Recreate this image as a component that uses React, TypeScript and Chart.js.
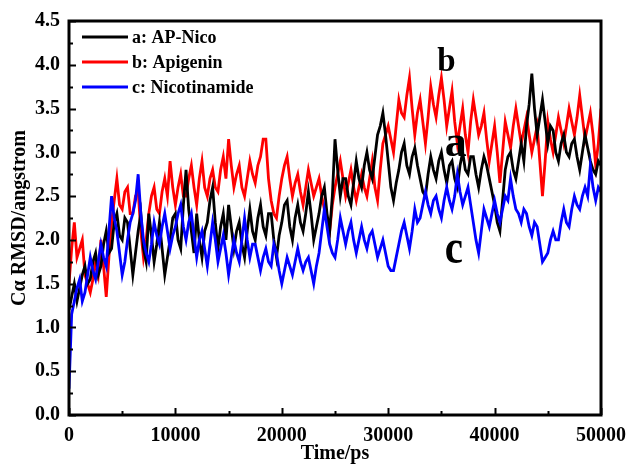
import React, { useEffect, useRef } from "react";
import { Chart, registerables } from "chart.js";

Chart.register(...registerables);

const TIME_STEP = 250;
const seriesNames = ["a: AP-Nico", "b: Apigenin", "c: Nicotinamide"];
const seriesColors = ["#000000", "#ff0000", "#0000ff"];

const apNico = [
  1.2, 1.35, 1.5, 1.3, 1.45, 1.6, 1.7, 1.5, 1.55, 1.75,
  1.85, 1.6, 1.7, 1.95, 2.1, 1.85, 1.9, 2.2, 2.3, 2.05,
  2.0, 2.25, 2.2, 1.9, 1.6, 1.85, 2.1, 2.3, 1.9, 1.75,
  2.3, 2.05, 1.75, 1.95, 2.2, 1.9, 1.6, 1.8, 2.0, 2.25,
  2.3, 2.0, 1.9, 2.4, 2.8, 2.35, 2.1, 1.85, 2.3, 2.0,
  1.8, 2.1, 2.2, 2.45, 2.6, 2.2, 1.9, 2.15, 2.3, 2.0,
  2.4, 2.15, 1.9, 2.1, 2.2, 1.95, 1.8, 2.1, 2.35, 2.1,
  2.0, 2.25, 2.4, 2.15, 2.05, 2.3, 2.3, 2.0, 1.8, 2.05,
  2.2, 2.4, 2.45, 2.15, 2.0, 2.25, 2.4, 2.2, 2.1, 2.3,
  2.55, 2.3, 2.0, 2.15, 2.3, 2.5, 2.6, 2.3, 2.1, 2.5,
  3.15, 2.8, 2.5, 2.7, 2.7, 2.5, 2.4, 2.65, 2.9, 2.7,
  2.6, 2.85, 3.0, 2.8, 2.7, 2.95, 3.2, 3.3, 3.45, 3.2,
  2.9, 2.6, 2.45, 2.65, 2.8, 3.0, 3.1, 2.85, 2.75, 2.95,
  3.05, 2.85, 2.7, 2.55, 2.5, 2.75, 2.95, 2.8, 2.7, 2.9,
  3.0, 2.8, 2.65, 2.85, 2.9, 2.7, 2.6, 2.85, 3.0, 2.8,
  2.75, 2.95, 2.95, 2.75, 2.6, 2.8, 2.95, 2.85, 2.7, 2.55,
  2.4, 2.2, 2.1, 2.45, 2.8, 2.95, 3.0, 2.8, 2.7, 2.9,
  3.1, 2.9, 3.3, 3.55, 3.9, 3.5, 3.2, 3.4, 3.6, 3.35,
  3.1, 3.3, 3.25, 3.0, 2.9, 3.1, 3.2, 3.0, 2.95, 3.1,
  3.15, 2.95, 2.8, 3.0, 3.2, 3.05, 2.9, 2.8, 2.75, 2.9,
  2.85,
];

const apigenin = [
  1.5, 1.9, 2.2, 1.8, 1.9, 2.0, 1.6, 1.5, 1.4, 1.55,
  1.75, 1.6, 2.0, 1.7, 1.35, 1.8, 2.2, 2.45, 2.7, 2.4,
  2.35, 2.55, 2.6, 2.3, 2.3, 2.5, 2.55, 2.1, 1.8, 2.0,
  2.3, 2.5, 2.6, 2.35, 2.3, 2.55, 2.7, 2.5, 2.9, 2.6,
  2.4, 2.6, 2.75, 2.5, 2.5, 2.7, 2.85, 2.6, 2.4, 2.7,
  2.9, 2.6, 2.5, 2.7, 2.8, 2.6, 2.55, 2.8, 2.95, 2.7,
  3.15, 2.85, 2.6, 2.75, 2.85, 2.6, 2.5, 2.7, 2.9, 2.75,
  2.65, 2.85, 2.95, 3.15, 3.15, 2.7, 2.45, 2.3, 2.25, 2.5,
  2.7, 2.85, 2.95, 2.7, 2.5, 2.65, 2.75, 2.55, 2.4, 2.6,
  2.8, 2.65, 2.5, 2.6, 2.7, 2.5, 2.35, 2.2, 2.1, 2.4,
  2.6, 2.75, 2.9, 2.7, 2.5, 2.65, 2.8, 2.6, 2.45, 2.6,
  2.75, 2.6, 2.5, 2.7, 2.9, 2.6, 2.45, 2.8, 3.1, 3.2,
  3.3, 3.15, 3.0, 3.3, 3.6, 3.45, 3.4, 3.65, 3.85, 3.5,
  3.2, 3.45, 3.6, 3.35, 3.1, 3.4, 3.75, 3.55, 3.4, 3.65,
  3.85, 3.6, 3.3, 3.5, 3.7, 3.35, 3.1, 3.3, 3.5, 3.2,
  3.0, 3.35, 3.6, 3.4, 3.2, 3.3, 3.45, 3.15, 2.9, 3.1,
  3.3, 3.0, 2.65, 3.0, 3.35, 3.2, 3.05, 3.3, 3.5, 3.3,
  3.1, 3.25, 3.4, 3.2, 3.0, 3.15, 3.3, 2.9, 2.5, 2.9,
  3.35, 3.15, 3.0, 3.2, 3.4, 3.25, 3.1, 3.3, 3.5, 3.35,
  3.2, 3.4, 3.65, 3.4, 3.15, 3.3, 3.45, 3.2, 2.85, 3.1,
  3.5,
];

const nicotinamide = [
  0.3, 1.15, 1.3, 1.45, 1.55, 1.3, 1.4, 1.6, 1.8, 1.65,
  1.55, 1.75, 1.95, 1.8, 1.7, 2.1, 2.5, 2.25, 2.1, 1.85,
  1.6, 1.75, 2.0, 2.2, 2.3, 2.45, 2.75, 2.3, 2.0, 1.85,
  1.75, 1.95, 2.2, 2.05, 1.95, 2.15, 2.3, 2.1, 1.9, 2.05,
  2.15, 2.3, 2.4, 2.15, 2.0, 2.2, 2.3, 2.05, 1.8, 2.0,
  2.1, 1.9, 1.7, 1.95, 2.2, 2.0, 1.75, 1.9, 2.05, 1.85,
  1.6, 1.8, 2.0, 1.85, 1.75, 2.0, 2.25, 2.0, 1.8, 1.95,
  1.95, 1.8, 1.65, 1.8, 1.9, 1.75, 1.7, 1.95, 1.85, 1.65,
  1.5, 1.65, 1.8, 1.7, 1.6, 1.75, 1.9, 1.75, 1.65, 1.75,
  1.8, 1.65, 1.5, 1.7, 1.85, 2.1, 2.35, 2.15, 1.95, 1.85,
  1.8, 2.0, 2.25, 2.1, 1.95, 2.1, 2.2, 2.0, 1.85, 2.0,
  2.15, 2.0, 1.9, 2.05, 2.1, 1.95, 1.8, 1.9, 2.0, 1.85,
  1.7, 1.65, 1.65, 1.8, 1.95, 2.1, 2.2, 2.05, 1.9, 2.1,
  2.35, 2.2, 2.25, 2.4, 2.55, 2.4, 2.3, 2.45, 2.5, 2.35,
  2.25, 2.45, 2.6, 2.45, 2.35, 2.5, 2.75, 2.55, 2.4, 2.5,
  2.6, 2.4, 2.2, 2.0, 1.85, 2.1, 2.35, 2.25, 2.15, 2.3,
  2.45, 2.3, 2.2, 2.35, 2.5, 2.45, 2.7, 2.5, 2.35, 2.3,
  2.2, 2.35, 2.3, 2.15, 2.05, 2.2, 2.15, 1.95, 1.75, 1.8,
  1.85, 2.0, 2.1, 2.0, 2.0, 2.2, 2.35, 2.2, 2.15, 2.35,
  2.5, 2.4, 2.35, 2.5, 2.6, 2.5, 2.85, 2.6, 2.45, 2.6,
  2.55,
];

const xTicks = [0, 10000, 20000, 30000, 40000, 50000];
const yTicks = [0, 0.5, 1.0, 1.5, 2.0, 2.5, 3.0, 3.5, 4.0, 4.5];
const annotations = [
  { text: "b", x: 35480, y: 3.93, size: 33, sy: 1.0 },
  { text: "a", x: 36360, y: 2.96, size: 44, sy: 1.0 },
  { text: "c", x: 36180, y: 1.74, size: 41, sy: 1.2 },
];

const FONT = "'Liberation Serif', 'Times New Roman', serif";

const toPoints = (arr: number[]) => arr.map((v, i) => ({ x: i * TIME_STEP, y: v }));

const framePlugin = {
  id: "frame",
  afterDatasetsDraw(chart: any) {
    const { ctx, chartArea: ca, scales } = chart;
    const xs = scales.x;
    const ys = scales.y;
    ctx.save();
    ctx.strokeStyle = "#000";
    ctx.lineWidth = 2;
    ctx.beginPath();
    for (let v = 0; v <= 50000; v += 5000) {
      const px = Math.round(xs.getPixelForValue(v)) + 0.5;
      const len = v % 10000 === 0 ? 7 : 4;
      ctx.moveTo(px, ca.bottom);
      ctx.lineTo(px, ca.bottom - len);
    }
    for (let k = 0; k <= 18; k++) {
      const v = k * 0.25;
      const py = Math.round(ys.getPixelForValue(v)) + 0.5;
      const len = k % 2 === 0 ? 7 : 4;
      ctx.moveTo(ca.left, py);
      ctx.lineTo(ca.left + len, py);
    }
    ctx.stroke();
    ctx.lineWidth = 3;
    ctx.strokeRect(ca.left, ca.top, ca.right - ca.left, ca.bottom - ca.top);

    const rows = [37, 62, 87];
    ctx.textBaseline = "middle";
    ctx.textAlign = "left";
    ctx.font = `bold 18px ${FONT}`;
    seriesNames.forEach((name, i) => {
      ctx.strokeStyle = seriesColors[i];
      ctx.lineWidth = 3;
      ctx.beginPath();
      ctx.moveTo(82, rows[i]);
      ctx.lineTo(128, rows[i]);
      ctx.stroke();
      ctx.fillStyle = "#000";
      ctx.fillText(name, 132, rows[i] + 1);
    });

    ctx.textAlign = "center";
    ctx.textBaseline = "alphabetic";
    ctx.fillStyle = "#000";
    annotations.forEach((a) => {
      ctx.save();
      ctx.font = `bold ${a.size}px ${FONT}`;
      ctx.translate(xs.getPixelForValue(a.x), ys.getPixelForValue(a.y));
      ctx.scale(1, a.sy);
      ctx.fillText(a.text, 0, 0);
      ctx.restore();
    });
    ctx.restore();
  },
};

export default function App() {
  const ref = useRef<HTMLCanvasElement | null>(null);
  useEffect(() => {
    if (!ref.current) return;
    const datasets = [apNico, apigenin, nicotinamide].map((arr, i) => ({
      label: seriesNames[i],
      data: toPoints(arr),
      borderColor: seriesColors[i],
      backgroundColor: seriesColors[i],
      borderWidth: 2.8,
      pointRadius: 0,
      tension: 0,
      fill: false,
      order: [2, 3, 1][i],
    }));
    const chart = new Chart(ref.current, {
      type: "line",
      data: { datasets },
      options: {
        animation: false,
        responsive: false,
        maintainAspectRatio: false,
        layout: { padding: { left: 0, top: 20, right: 27, bottom: 0 } },
        plugins: { legend: { display: false }, tooltip: { enabled: false } },
        scales: {
          x: {
            type: "linear",
            min: 0,
            max: 50000,
            afterFit: (s: any) => { s.height = 56; },
            afterBuildTicks: (s: any) => { s.ticks = xTicks.map((v) => ({ value: v })); },
            grid: { display: false, drawTicks: false, tickLength: 0 },
            border: { display: false },
            ticks: {
              color: "#000",
              padding: 9,
              maxRotation: 0,
              font: { family: FONT, size: 20, weight: "bold" },
              callback: (v: any) => String(v),
            },
            title: {
              display: true,
              text: "Time/ps",
              color: "#000",
              padding: { top: 0, bottom: 5 },
              font: { family: FONT, size: 20, weight: "bold" },
            },
          },
          y: {
            type: "linear",
            min: 0,
            max: 4.5,
            afterFit: (s: any) => { s.width = 69; },
            afterBuildTicks: (s: any) => { s.ticks = yTicks.map((v) => ({ value: v })); },
            grid: { display: false, drawTicks: false, tickLength: 0 },
            border: { display: false },
            ticks: {
              color: "#000",
              padding: 9,
              font: { family: FONT, size: 20, weight: "bold" },
              callback: (v: any) => Number(v).toFixed(1),
            },
            title: {
              display: true,
              text: "Cα RMSD/angstrom",
              color: "#000",
              padding: { top: 8, bottom: 0 },
              font: { family: FONT, size: 20, weight: "bold" },
            },
          },
        },
      },
      plugins: [framePlugin],
    });
    return () => chart.destroy();
  }, []);
  return (
    <div style={{ position: "absolute", left: 0, top: 0, width: 635, height: 471, background: "#fff" }}>
      <canvas ref={ref} width={635} height={471} style={{ width: 635, height: 471 }} />
    </div>
  );
}
